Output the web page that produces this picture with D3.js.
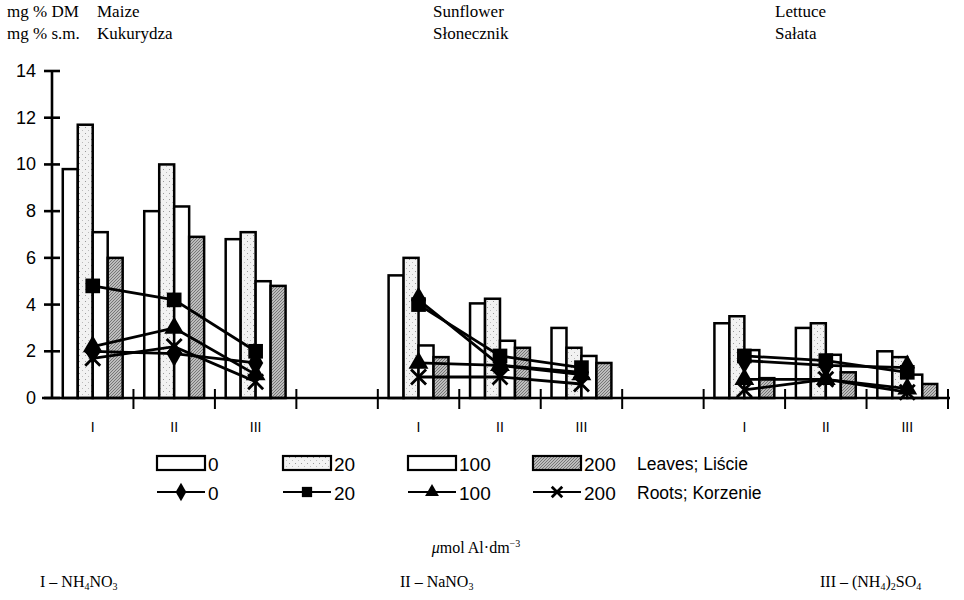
<!DOCTYPE html>
<html>
<head>
<meta charset="utf-8">
<script src="https://cdn.jsdelivr.net/npm/d3@7"></script>
<style>
  body { margin: 0; background: #fff; }
  .serif { font-family: "Liberation Serif", "Times New Roman", serif; }
  .sans { font-family: "Liberation Sans", Arial, sans-serif; }
</style>
</head>
<body>
<svg id="chart" width="964" height="600"></svg>
<script>
// crops and nutrient treatments
const crops = ["Maize", "Sunflower", "Lettuce"];
const cropsPl = ["Kukurydza", "Słonecznik", "Sałata"];
const treatments = ["I", "II", "III"];
const doses = ["0", "20", "100", "200"];

// leaves (bars) - order: maize I,II,III, sunflower I,II,III, lettuce I,II,III
const leaves0   = [9.8, 8.0, 6.8, 5.25, 4.05, 3.0, 3.2, 3.0, 2.0];
const leaves20  = [11.7, 10.0, 7.1, 6.0, 4.25, 2.15, 3.5, 3.2, 1.75];
const leaves100 = [7.1, 8.2, 5.0, 2.25, 2.45, 1.8, 2.05, 1.85, 1.0];
const leaves200 = [6.0, 6.9, 4.8, 1.75, 2.15, 1.5, 0.85, 1.1, 0.6];

// roots (lines) - same order
const roots0   = [2.0, 1.9, 1.5, 4.2, 1.4, 1.1, 1.6, 1.4, 1.3];
const roots20  = [4.8, 4.2, 2.0, 4.0, 1.8, 1.3, 1.8, 1.6, 1.1];
const roots100 = [2.2, 3.0, 1.0, 1.5, 1.4, 1.0, 0.8, 0.8, 0.4];
const roots200 = [1.7, 2.2, 0.7, 0.9, 0.9, 0.6, 0.35, 0.8, 0.25];

const yTicks = [0, 2, 4, 6, 8, 10, 12, 14];

const leaves = [leaves0, leaves20, leaves100, leaves200];
const roots = [roots0, roots20, roots100, roots200];

var svg = d3.select("#chart");

// defs: fill patterns for the bars
var defs = svg.append("defs");
var dots = defs.append("pattern")
  .attr("id", "dots").attr("patternUnits", "userSpaceOnUse")
  .attr("width", 6).attr("height", 6);
dots.append("rect").attr("width", 6).attr("height", 6).attr("fill", "#f2f2f2");
dots.append("rect").attr("x", 1).attr("y", 1).attr("width", 1).attr("height", 1).attr("fill", "#999");
dots.append("rect").attr("x", 4).attr("y", 4).attr("width", 1).attr("height", 1).attr("fill", "#bbb");

var hatch = defs.append("pattern")
  .attr("id", "hatch").attr("patternUnits", "userSpaceOnUse")
  .attr("width", 3).attr("height", 3);
hatch.append("rect").attr("width", 3).attr("height", 3).attr("fill", "#bdbdbd");
hatch.append("path").attr("d", "M0,3 L3,0").attr("stroke", "#6e6e6e").attr("stroke-width", 0.9);

const barFills = ["#fff", "url(#dots)", "#fff", "url(#hatch)"];

// x keys: 3 treatments per crop, one empty slot between crops
var keys = [];
crops.forEach(function (c, ci) {
  treatments.forEach(function (t) { keys.push(c + "|" + t); });
  if (ci < crops.length - 1) keys.push("gap" + ci);
});

var x = d3.scaleBand().domain(keys).range([52, 948]).padding(0);
var xDose = d3.scaleBand().domain(doses).range([0, x.bandwidth()])
  .paddingInner(0).paddingOuter(0.72);
var y = d3.scaleLinear().domain([0, 14]).range([398, 71]);

// y axis
var g = svg.append("g").attr("stroke", "#000");
g.append("line").attr("x1", 52).attr("x2", 52).attr("y1", y(14)).attr("y2", y(0))
  .attr("stroke-width", 2.6);
g.selectAll(".ytick").data(yTicks).enter().append("line")
  .attr("x1", 44).attr("x2", 60)
  .attr("y1", d => y(d)).attr("y2", d => y(d))
  .attr("stroke-width", 2.6);
svg.selectAll(".ylab").data(yTicks).enter().append("text")
  .attr("class", "sans")
  .attr("x", 36).attr("y", d => y(d) + 6)
  .attr("text-anchor", "end").attr("font-size", 18)
  .text(d => d);

// bars
var barData = [];
crops.forEach(function (c, ci) {
  treatments.forEach(function (t, ti) {
    doses.forEach(function (d, di) {
      barData.push({ key: c + "|" + t, dose: d, di: di, v: leaves[di][ci * 3 + ti] });
    });
  });
});

svg.append("g").selectAll("rect").data(barData).enter().append("rect")
  .attr("x", d => x(d.key) + xDose(d.dose))
  .attr("y", d => y(d.v))
  .attr("width", xDose.bandwidth())
  .attr("height", d => y(0) - y(d.v))
  .attr("fill", d => barFills[d.di])
  .attr("stroke", "#000").attr("stroke-width", 2.5);

// x axis
var boundaries = keys.map(k => x(k)).concat([x.range()[1]]);
svg.append("line").attr("x1", 42).attr("x2", 950).attr("y1", y(0)).attr("y2", y(0))
  .attr("stroke", "#000").attr("stroke-width", 2.6);
svg.selectAll(".xtick").data(boundaries.slice(1)).enter().append("line")
  .attr("x1", d => d).attr("x2", d => d).attr("y1", 389).attr("y2", 409)
  .attr("stroke", "#000").attr("stroke-width", 2);
svg.selectAll(".xlab").data(keys.filter(k => k.indexOf("gap") < 0)).enter().append("text")
  .attr("class", "sans")
  .attr("x", d => x(d) + x.bandwidth() / 2).attr("y", 432)
  .attr("text-anchor", "middle").attr("font-size", 14)
  .text(d => d.split("|")[1]);

// root lines with markers
function xMarkPath(s) {
  return "M" + (-s) + "," + (-s) + "L" + s + "," + s + "M" + (-s) + "," + s + "L" + s + "," + (-s);
}
function drawMarker(sel, di, big) {
  var k = big ? 1 : 0.7;
  if (di === 0) sel.append("path").attr("d", d3.symbol(d3.symbolDiamond, 200 * k * k)()).attr("fill", "#000");
  if (di === 1) sel.append("path").attr("d", d3.symbol(d3.symbolSquare, 215 * k * k)()).attr("fill", "#000");
  if (di === 2) sel.append("path").attr("d", d3.symbol(d3.symbolTriangle, 170 * k * k)()).attr("fill", "#000");
  if (di === 3) sel.append("path").attr("d", xMarkPath(7.5 * k)).attr("stroke", "#000")
    .attr("stroke-width", 2.8).attr("fill", "none");
}

var line = d3.line().x(d => d.x).y(d => d.y);
var lineG = svg.append("g");
crops.forEach(function (c, ci) {
  doses.forEach(function (d, di) {
    var pts = treatments.map(function (t, ti) {
      return { x: x(c + "|" + t) + x.bandwidth() / 2, y: y(roots[di][ci * 3 + ti]) };
    });
    lineG.append("path").attr("d", line(pts)).attr("fill", "none")
      .attr("stroke", "#000").attr("stroke-width", 2.8);
    pts.forEach(function (p) {
      var m = lineG.append("g").attr("transform", "translate(" + p.x + "," + p.y + ")");
      drawMarker(m, di, true);
    });
  });
});

// titles
var titleG = svg.append("g").attr("class", "serif").attr("font-size", 17);
titleG.append("text").attr("x", 7).attr("y", 17).text("mg % DM");
titleG.append("text").attr("x", 7).attr("y", 39).text("mg % s.m.");
var titleX = [97, 433, 775];
crops.forEach(function (c, ci) {
  titleG.append("text").attr("x", titleX[ci]).attr("y", 17).text(c);
  titleG.append("text").attr("x", titleX[ci]).attr("y", 39).text(cropsPl[ci]);
});

// legend
var legX = [157, 283, 408, 533];
var leg = svg.append("g").attr("class", "sans");
doses.forEach(function (d, di) {
  leg.append("rect").attr("x", legX[di]).attr("y", 456).attr("width", 48).attr("height", 14)
    .attr("fill", barFills[di]).attr("stroke", "#000").attr("stroke-width", 2.2);
  leg.append("text").attr("x", legX[di] + 51).attr("y", 471).attr("font-size", 19).text(d);
  leg.append("line").attr("x1", legX[di]).attr("x2", legX[di] + 48).attr("y1", 492).attr("y2", 492)
    .attr("stroke", "#000").attr("stroke-width", 2.2);
  var m = leg.append("g").attr("transform", "translate(" + (legX[di] + 24) + ",492)");
  drawMarker(m, di, false);
  leg.append("text").attr("x", legX[di] + 51).attr("y", 500).attr("font-size", 19).text(d);
});
leg.append("text").attr("x", 637).attr("y", 470).attr("font-size", 17.5).text("Leaves; Liście");
leg.append("text").attr("x", 637).attr("y", 499).attr("font-size", 17.5).text("Roots; Korzenie");

// unit label
var unit = svg.append("text").attr("class", "serif").attr("font-size", 16)
  .attr("x", 476).attr("y", 553).attr("text-anchor", "middle");
unit.append("tspan").attr("font-style", "italic").text("μ");
unit.append("tspan").text("mol Al·dm");
unit.append("tspan").attr("font-size", 10).attr("dy", -6).text("−3");

// nutrient solution labels (subscripts shift down, next normal part shifts back)
function formula(xPos, parts) {
  var t = svg.append("text").attr("class", "serif").attr("font-size", 16)
    .attr("x", xPos).attr("y", 587);
  var shifted = false;
  parts.forEach(function (p) {
    if (p.sub) {
      t.append("tspan").attr("font-size", 10).attr("dy", shifted ? 0 : 3).text(p.sub);
      shifted = true;
    } else {
      t.append("tspan").attr("dy", shifted ? -3 : 0).text(p.t);
      shifted = false;
    }
  });
}
formula(40, [{ t: "I – NH" }, { sub: "4" }, { t: "NO" }, { sub: "3" }]);
formula(400, [{ t: "II – NaNO" }, { sub: "3" }]);
formula(820, [{ t: "III – (NH" }, { sub: "4" }, { t: ")" }, { sub: "2" }, { t: "SO" }, { sub: "4" }]);
</script>
</body>
</html>
